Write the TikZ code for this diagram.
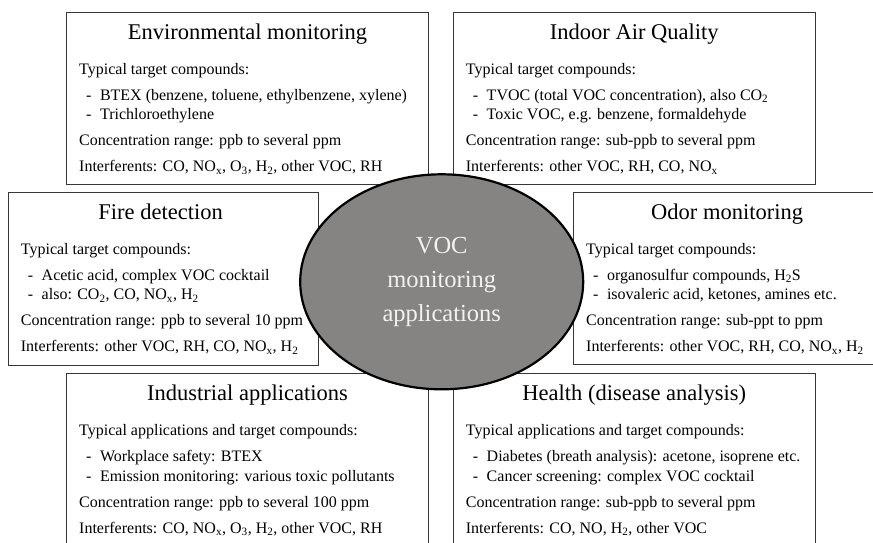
\documentclass[tikz,border=0pt]{standalone}
\usepackage{fontspec}
\setmainfont{Liberation Serif}
\usetikzlibrary{shapes.geometric}
\definecolor{ovalgray}{RGB}{134,131,131}
\definecolor{framegray}{RGB}{55,55,55}
\newcommand{\itm}{\hspace*{7pt}-\hspace{8.5pt}}
\newcommand{\lo}[1]{\textsubscript{#1}}
\tikzset{
	appbox/.style={draw=framegray, line width=0.9pt, fill=white, anchor=north west, inner sep=0pt},
	apptitle/.style={anchor=base, inner sep=0pt, font=\fontsize{22.5}{27}\selectfont},
	apptext/.style={anchor=north west, inner sep=0pt, align=left, font=\fontsize{16}{19.5}\selectfont},
}

\begin{document}
\begin{tikzpicture}[x=1pt, y=-1pt]
\useasboundingbox (0,0) rectangle (873,542);
% the six application boxes
\node[appbox, minimum width=362, minimum height=172] (env) at (66,12) {};
\node[apptitle] (envtitle) at ([yshift=-27.3]env.north) {Environmental monitoring};
\node[apptext] (envtext) at ([xshift=13, yshift=-51]env.north west) {Typical target compounds:\\[6.5pt]
	\itm BTEX (benzene, toluene, ethylbenzene, xylene)\\
	\itm Trichloroethylene\\[6.5pt]
	Concentration range: ppb to several ppm\\[6.5pt]
	Interferents: CO, NO\lo{x}, O\lo{3}, H\lo{2}, other VOC, RH};

\node[appbox, minimum width=362.3, minimum height=172] (iaq) at (452.7,12) {};
\node[apptitle] (iaqtitle) at ([yshift=-27.3]iaq.north) {Indoor Air Quality};
\node[apptext] (iaqtext) at ([xshift=13, yshift=-51]iaq.north west) {Typical target compounds:\\[6.5pt]
	\itm TVOC (total VOC concentration), also CO\lo{2}\\
	\itm Toxic VOC, e.g. benzene, formaldehyde\\[6.5pt]
	Concentration range: sub-ppb to several ppm\\[6.5pt]
	Interferents: other VOC, RH, CO, NO\lo{x}};

\node[appbox, minimum width=310.3, minimum height=172.5] (fire) at (8,192) {};
\node[apptitle] (firetitle) at ([xshift=-3, yshift=-27.3]fire.north) {Fire detection};
\node[apptext] (firetext) at ([xshift=12.7, yshift=-51]fire.north west) {Typical target compounds:\\[6.5pt]
	\itm Acetic acid, complex VOC cocktail\\
	\itm also: CO\lo{2}, CO, NO\lo{x}, H\lo{2}\\[6.5pt]
	Concentration range: ppb to several 10 ppm\\[6.5pt]
	Interferents: other VOC, RH, CO, NO\lo{x}, H\lo{2}};

\node[appbox, minimum width=314, minimum height=172] (odor) at (572.7,192) {};
\node[apptitle] (odortitle) at ([xshift=-3, yshift=-27.3]odor.north) {Odor monitoring};
\node[apptext] (odortext) at ([xshift=13.3, yshift=-51]odor.north west) {Typical target compounds:\\[6.5pt]
	\itm organosulfur compounds, H\lo{2}S\\
	\itm isovaleric acid, ketones, amines etc.\\[6.5pt]
	Concentration range: sub-ppt to ppm\\[6.5pt]
	Interferents: other VOC, RH, CO, NO\lo{x}, H\lo{2}};

\node[appbox, minimum width=362, minimum height=180] (ind) at (66,373.3) {};
\node[apptitle] (indtitle) at ([yshift=-27.3]ind.north) {Industrial applications};
\node[apptext] (indtext) at ([xshift=13, yshift=-51]ind.north west) {Typical applications and target compounds:\\[6.5pt]
	\itm Workplace safety: BTEX\\
	\itm Emission monitoring: various toxic pollutants\\[6.5pt]
	Concentration range: ppb to several 100 ppm\\[6.5pt]
	Interferents: CO, NO\lo{x}, O\lo{3}, H\lo{2}, other VOC, RH};

\node[appbox, minimum width=362.3, minimum height=180] (health) at (452.7,373.3) {};
\node[apptitle] (healthtitle) at ([yshift=-27.3]health.north) {Health (disease analysis)};
\node[apptext] (healthtext) at ([xshift=13, yshift=-51]health.north west) {Typical applications and target compounds:\\[6.5pt]
	\itm Diabetes (breath analysis): acetone, isoprene etc.\\
	\itm Cancer screening: complex VOC cocktail\\[6.5pt]
	Concentration range: sub-ppb to several ppm\\[6.5pt]
	Interferents: CO, NO, H\lo{2}, other VOC};

% central oval on top
\node[ellipse, draw=black, line width=2.2pt, fill=ovalgray, minimum width=283, minimum height=215, inner sep=0pt,
	align=center, text=white!95!black, font=\fontsize{24.5}{34}\selectfont] (voc) at (441.7,281.8) {VOC\\monitoring\\applications};
\end{tikzpicture}
\end{document}
